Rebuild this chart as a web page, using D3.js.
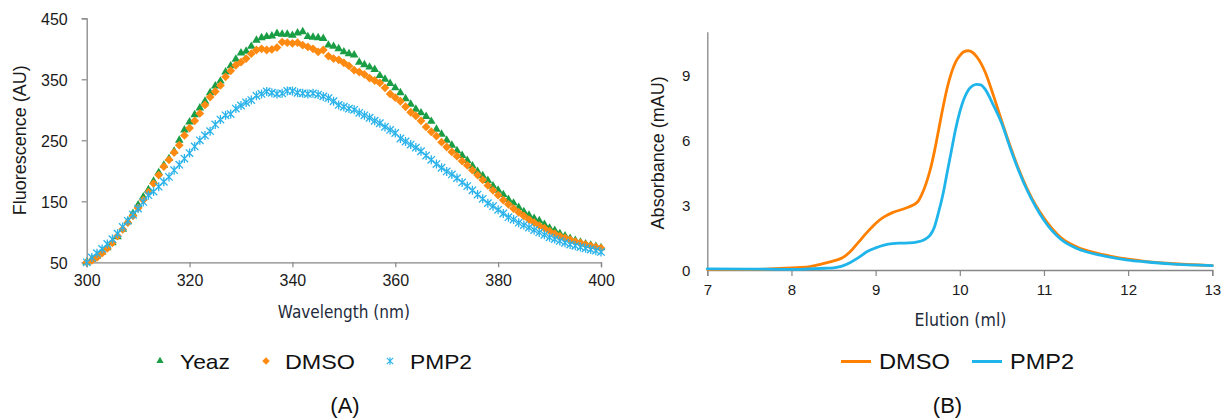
<!DOCTYPE html>
<html>
<head>
<meta charset="utf-8">
<script src="https://cdn.jsdelivr.net/npm/d3@7"></script>
<style>
  html, body { margin: 0; padding: 0; background: #ffffff; }
  svg { display: block; }
  .tick text { font-family: "Liberation Sans", Arial, sans-serif; fill: #1a1a1a; }
</style>
</head>
<body>
<svg id="chart" width="1223" height="418"></svg>
<script>
// ---------------- Panel A data (fluorescence spectra, 1 nm steps) ----------------
const wavelengths = d3.range(300, 401);
const yeaz = [
  50, 55, 60, 67, 74, 82, 92, 104, 117, 130,
  144, 157, 169, 183, 197, 209, 220, 232, 250, 267,
  280, 292, 303, 314, 328, 339, 347, 362, 372, 383,
  393, 396, 404, 414, 418, 420, 421, 425, 424, 424,
  422, 426, 428, 420, 419, 418, 417, 406, 404, 400,
  395, 392, 390, 378, 374, 370, 366, 356, 350, 343,
  336, 328, 318, 309, 301, 295, 289, 281, 268, 260,
  250, 242, 233, 225, 217, 208, 199, 192, 184, 175,
  168, 161, 153, 147, 140, 133, 127, 122, 118, 112,
  106, 102, 97, 93, 89, 86, 83, 80, 78, 76, 74
];
const dmso = [
  50, 53, 58, 65, 73, 82, 93, 104, 115, 126,
  139, 152, 165, 179, 193, 207, 218, 230, 242, 258,
  270, 282, 294, 308, 321, 330, 340, 354, 364, 373,
  378, 384, 392, 398, 400, 398, 399, 402, 411, 410,
  409, 410, 406, 403, 400, 395, 398, 388, 384, 382,
  377, 372, 365, 362, 358, 352, 348, 344, 336, 326,
  320, 314, 305, 296, 290, 282, 272, 264, 257, 247,
  239, 231, 224, 216, 209, 201, 193, 185, 176, 168,
  160, 152, 145, 138, 132, 126, 120, 115, 110, 106,
  101, 97, 93, 90, 87, 84, 82, 79, 77, 75, 73
];
const pmp2 = [
  50, 58, 65, 72, 80, 88, 97, 108, 118, 128,
  138, 149, 160, 166, 174, 182, 190, 201, 210, 220,
  229, 240, 250, 258, 265, 276, 284, 291, 293, 302,
  307, 312, 316, 323, 326, 330, 328, 326, 327, 331,
  331, 328, 327, 326, 327, 325, 322, 319, 314, 308,
  305, 302, 300, 295, 291, 287, 282, 278, 272, 267,
  262, 253, 248, 243, 238, 232, 225, 218, 211, 205,
  199, 194, 188, 181, 175, 168, 161, 154, 147, 142,
  136, 130, 124, 120, 115, 111, 107, 103, 99, 95,
  91, 88, 85, 82, 79, 77, 75, 73, 71, 69, 67
];
const seriesA = ["Yeaz", "DMSO", "PMP2"];
const ticksAx = [300, 320, 340, 360, 380, 400];
const ticksAy = [50, 150, 250, 350, 450];

// ---------------- Panel B data (elution profiles) ----------------
const elutionDMSO = [7.0, 7.5, 7.8, 8.0, 8.2, 8.3, 8.4, 8.5, 8.6, 8.7, 8.8, 8.9, 9.0, 9.1, 9.2, 9.3, 9.4, 9.5, 9.55, 9.6, 9.65, 9.7, 9.75, 9.8, 9.85, 9.9, 9.95, 10.0, 10.05, 10.1, 10.2, 10.3, 10.4, 10.5, 10.6, 10.7, 10.8, 10.9, 11.0, 11.2, 11.4, 11.6, 11.8, 12.0, 12.2, 12.5, 13.0];
const absDMSO     = [0.02, 0.02, 0.06, 0.10, 0.14, 0.22, 0.32, 0.42, 0.55, 0.85, 1.30, 1.75, 2.15, 2.45, 2.65, 2.78, 2.92, 3.15, 3.50, 4.00, 4.65, 5.50, 6.50, 7.50, 8.40, 9.10, 9.60, 9.90, 10.08, 10.12, 9.85, 9.15, 8.05, 6.85, 5.70, 4.65, 3.75, 3.00, 2.40, 1.50, 1.05, 0.80, 0.63, 0.50, 0.40, 0.30, 0.20];
const elutionPMP2 = [7.0, 7.5, 8.0, 8.2, 8.4, 8.5, 8.6, 8.7, 8.8, 8.9, 9.0, 9.1, 9.2, 9.3, 9.4, 9.5, 9.55, 9.6, 9.65, 9.7, 9.75, 9.8, 9.85, 9.9, 9.95, 10.0, 10.05, 10.1, 10.15, 10.2, 10.25, 10.3, 10.4, 10.5, 10.6, 10.7, 10.8, 10.9, 11.0, 11.2, 11.4, 11.6, 11.8, 12.0, 12.2, 12.5, 13.0];
const absPMP2     = [0.05, 0.04, 0.03, 0.05, 0.08, 0.10, 0.18, 0.35, 0.58, 0.85, 1.02, 1.15, 1.22, 1.24, 1.25, 1.30, 1.35, 1.45, 1.62, 2.00, 2.70, 3.50, 4.50, 5.50, 6.50, 7.30, 7.90, 8.30, 8.50, 8.57, 8.55, 8.35, 7.60, 6.75, 5.62, 4.58, 3.68, 2.93, 2.30, 1.42, 0.98, 0.74, 0.58, 0.46, 0.38, 0.28, 0.20];
const seriesB = ["DMSO", "PMP2"];
const ticksBx = [7, 8, 9, 10, 11, 12, 13];
const ticksBy = [0, 3, 6, 9];

// ---------------- styling ----------------
const colors = { Yeaz: "#1a9e45", DMSO: "#ff8a12", PMP2: "#2ab3ea" };
const lineColors = { DMSO: "#ff8000", PMP2: "#1fb5ea" };
const axisColor = "#868686";
const titleFont = '"Liberation Sans", Arial, sans-serif';
const narrowFont = '"Liberation Sans Narrow", "DejaVu Sans Condensed", "Roboto Condensed", "Liberation Sans", sans-serif';

const svg = d3.select("#chart");

// ================= Panel A =================
const xA = d3.scaleLinear().domain([300, 400]).range([86.7, 601]);
const yA = d3.scaleLinear().domain([50, 450]).range([262.3, 18.3]);

const gA = svg.append("g");
const axAx = gA.append("g").attr("transform", `translate(0,${yA(50)})`)
  .call(d3.axisBottom(xA).tickValues(ticksAx).tickSize(5).tickPadding(6).tickFormat(d3.format("d")));
const axAy = gA.append("g").attr("transform", `translate(${xA(300)},0)`)
  .call(d3.axisLeft(yA).tickValues(ticksAy).tickSize(5).tickPadding(14).tickFormat(d3.format("d")));
[axAx, axAy].forEach(a => {
  a.select(".domain").attr("stroke", axisColor).attr("stroke-width", 1.3);
  a.selectAll(".tick line").attr("stroke", axisColor).attr("stroke-width", 1.2);
  a.selectAll(".tick text").style("font-size", "16px");
});
axAx.selectAll(".tick text").attr("dy", "0.8em");
axAy.selectAll(".tick text").attr("dy", "0.36em");

gA.append("text")
  .attr("transform", `translate(26,${(yA(50) + yA(450)) / 2}) rotate(-90)`)
  .attr("text-anchor", "middle")
  .style("font-family", titleFont).style("font-size", "18px").attr("fill", "#1a1a1a")
  .text("Fluorescence (AU)");

gA.append("text")
  .attr("x", (xA(300) + xA(400)) / 2).attr("y", 318)
  .attr("text-anchor", "middle")
  .attr("textLength", 132).attr("lengthAdjust", "spacingAndGlyphs")
  .style("font-family", narrowFont).style("font-size", "17px").attr("fill", "#232b3b")
  .text("Wavelength (nm)");

const dataA = {
  Yeaz: wavelengths.map((w, i) => [w, yeaz[i]]),
  DMSO: wavelengths.map((w, i) => [w, dmso[i]]),
  PMP2: wavelengths.map((w, i) => [w, pmp2[i]])
};
const triPath = d3.symbol(d3.symbolTriangle, 32)();
const diaPath = "M0,-4.4L4.4,0L0,4.4L-4.4,0Z";
const starPath = "M-3.7,-3.7L3.7,3.7M3.7,-3.7L-3.7,3.7M0,-4.5L0,4.5";

function drawMarker(sel, name) {
  if (name === "Yeaz") {
    sel.append("path").attr("d", triPath).attr("fill", colors.Yeaz);
  } else if (name === "DMSO") {
    sel.append("path").attr("d", diaPath).attr("fill", colors.DMSO);
  } else {
    sel.append("path").attr("d", starPath).attr("fill", "none")
      .attr("stroke", colors.PMP2).attr("stroke-width", 1.3);
  }
}

seriesA.forEach(name => {
  const g = gA.append("g");
  g.selectAll("g").data(dataA[name]).join("g")
    .attr("transform", d => `translate(${xA(d[0])},${yA(d[1])})`)
    .each(function () { drawMarker(d3.select(this), name); });
});

// legend A
const legA = [
  { name: "Yeaz", mx: 160, tx: 180, tw: 50 },
  { name: "DMSO", mx: 266, tx: 285, tw: 70 },
  { name: "PMP2", mx: 390, tx: 410, tw: 62 }
];
legA.forEach(l => {
  const m = gA.append("g").attr("transform", `translate(${l.mx},361) scale(0.85)`);
  drawMarker(m, l.name);
  gA.append("text").attr("x", l.tx).attr("y", 368.5)
    .attr("textLength", l.tw).attr("lengthAdjust", "spacingAndGlyphs")
    .style("font-family", titleFont).style("font-size", "21px").attr("fill", "#111")
    .text(l.name);
});
gA.append("text").attr("x", 345).attr("y", 413).attr("text-anchor", "middle")
  .style("font-family", titleFont).style("font-size", "22px").attr("fill", "#111")
  .text("(A)");

// ================= Panel B =================
const xB = d3.scaleLinear().domain([7, 13]).range([707.3, 1212.3]);
const yB = d3.scaleLinear().domain([0, 11]).range([270, 31.7]);

const gB = svg.append("g");
const axBx = gB.append("g").attr("transform", `translate(0,${yB(0)})`)
  .call(d3.axisBottom(xB).tickValues(ticksBx).tickSize(6).tickPadding(6).tickFormat(d3.format("d")));
const axBy = gB.append("g").attr("transform", `translate(${xB(7)},0)`)
  .call(d3.axisLeft(yB).tickValues(ticksBy).tickSize(0).tickPadding(17).tickFormat(d3.format("d")));
[axBx, axBy].forEach(a => {
  a.select(".domain").attr("stroke", axisColor).attr("stroke-width", 1.3);
  a.selectAll(".tick line").attr("stroke", axisColor).attr("stroke-width", 1.2);
  a.selectAll(".tick text").style("font-size", "15px");
});
axBx.selectAll(".tick text").attr("dy", "0.85em");
axBy.selectAll(".tick text").attr("dy", "0.36em");

gB.append("text")
  .attr("transform", `translate(664,${(yB(0) + yB(11)) / 2 + 2}) rotate(-90)`)
  .attr("text-anchor", "middle")
  .style("font-family", titleFont).style("font-size", "18px").attr("fill", "#1a1a1a")
  .text("Absorbance (mAU)");

gB.append("text")
  .attr("x", 960.5).attr("y", 326)
  .attr("text-anchor", "middle")
  .attr("textLength", 92).attr("lengthAdjust", "spacingAndGlyphs")
  .style("font-family", narrowFont).style("font-size", "17px").attr("fill", "#232b3b")
  .text("Elution (ml)");

const dataB = {
  DMSO: elutionDMSO.map((x, i) => [x, absDMSO[i]]),
  PMP2: elutionPMP2.map((x, i) => [x, absPMP2[i]])
};
const lineB = d3.line().x(d => xB(d[0])).y(d => yB(d[1])).curve(d3.curveMonotoneX);
seriesB.forEach(name => {
  gB.append("path").datum(dataB[name])
    .attr("d", lineB)
    .attr("fill", "none").attr("stroke", lineColors[name])
    .attr("stroke-width", 2.8).attr("stroke-linejoin", "round").attr("stroke-linecap", "round");
});

// legend B
const legB = [
  { name: "DMSO", x1: 841, x2: 871, tx: 879, tw: 71 },
  { name: "PMP2", x1: 972, x2: 1002, tx: 1010, tw: 64 }
];
legB.forEach(l => {
  gB.append("line").attr("x1", l.x1).attr("x2", l.x2).attr("y1", 361.5).attr("y2", 361.5)
    .attr("stroke", lineColors[l.name]).attr("stroke-width", 3);
  gB.append("text").attr("x", l.tx).attr("y", 368.5)
    .attr("textLength", l.tw).attr("lengthAdjust", "spacingAndGlyphs")
    .style("font-family", titleFont).style("font-size", "22px").attr("fill", "#111")
    .text(l.name);
});
gB.append("text").attr("x", 947.5).attr("y", 413).attr("text-anchor", "middle")
  .style("font-family", titleFont).style("font-size", "22px").attr("fill", "#111")
  .text("(B)");
</script>
</body>
</html>
